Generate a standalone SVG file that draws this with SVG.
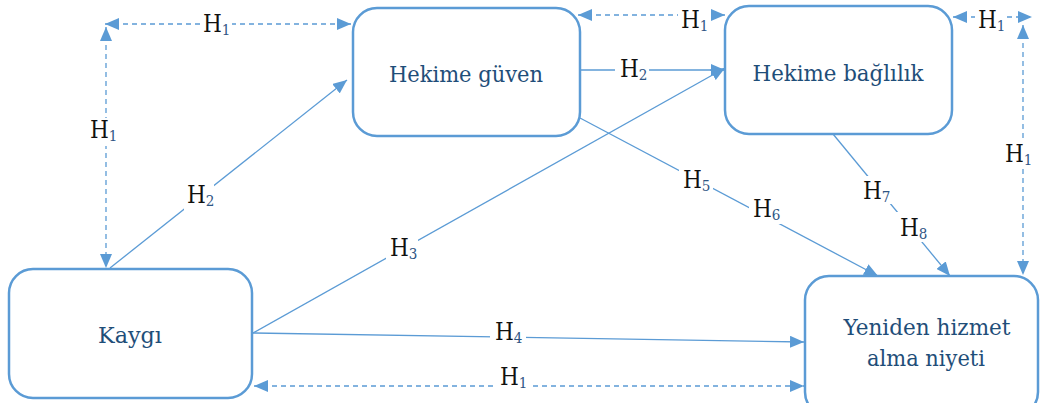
<svg xmlns="http://www.w3.org/2000/svg" width="1041" height="403" viewBox="0 0 1041 403">
  <style>
    .box { fill: #ffffff; stroke: #5B9BD5; stroke-width: 2.5; }
    .node-text { font-family: 'DejaVu Serif Condensed', 'DejaVu Serif', 'Liberation Serif', serif; font-size: 23px; fill: #1F4E79; text-anchor: middle; }
    .link { stroke: #5B9BD5; stroke-width: 1.3; fill: none; }
    .dash { stroke-dasharray: 5 4; }
    .lbl { font-family: 'DejaVu Serif Condensed', 'DejaVu Serif', 'Liberation Serif', serif; font-size: 24px; fill: #111111; }
    .sub { font-size: 15px; fill: #2E5583; }
    .lbl-bg { fill: #ffffff; }
  </style>
  <defs>
    <marker id="arrow" viewBox="0 0 14 12" refX="14" refY="6" markerWidth="14" markerHeight="12" markerUnits="userSpaceOnUse" orient="auto-start-reverse">
      <path d="M0,0 L14,6 L0,12 Z" fill="#5B9BD5"/>
    </marker>
  </defs>

  <!-- connectors -->
  <g id="connectors">
    <!-- H1 correlations (dashed, double-headed) -->
    <line class="link dash" x1="105" y1="24" x2="351" y2="24" marker-start="url(#arrow)" marker-end="url(#arrow)"/>
    <line class="link dash" x1="106" y1="27" x2="106" y2="268" marker-start="url(#arrow)" marker-end="url(#arrow)"/>
    <line class="link dash" x1="578" y1="15" x2="725" y2="15" marker-start="url(#arrow)" marker-end="url(#arrow)"/>
    <line class="link dash" x1="953" y1="17" x2="1032" y2="17" marker-start="url(#arrow)" marker-end="url(#arrow)"/>
    <line class="link dash" x1="1023" y1="25" x2="1023" y2="275" marker-start="url(#arrow)" marker-end="url(#arrow)"/>
    <line class="link dash" x1="254" y1="386" x2="804" y2="386" marker-start="url(#arrow)" marker-end="url(#arrow)"/>

    <!-- directed paths -->
    <line class="link" x1="110" y1="268" x2="347" y2="80" marker-end="url(#arrow)"/>
    <line class="link" x1="580" y1="70" x2="725" y2="70" marker-end="url(#arrow)"/>
    <line class="link" x1="253" y1="333" x2="725" y2="68" marker-end="url(#arrow)"/>
    <line class="link" x1="253" y1="333" x2="804" y2="342" marker-end="url(#arrow)"/>
    <line class="link" x1="580" y1="118" x2="878" y2="276" marker-end="url(#arrow)"/>
    <line class="link" x1="833" y1="134" x2="950" y2="276" marker-end="url(#arrow)"/>

    <!-- hypothesis labels -->
    <rect class="lbl-bg" x="200" y="12" width="32" height="24"/>
    <text class="lbl" x="203" y="32">H<tspan class="sub" dy="3">1</tspan></text>

    <rect class="lbl-bg" x="88" y="118" width="30" height="28"/>
    <text class="lbl" x="90" y="138">H<tspan class="sub" dy="3">1</tspan></text>

    <rect class="lbl-bg" x="678" y="6" width="32" height="24"/>
    <text class="lbl" x="681" y="28">H<tspan class="sub" dy="3">1</tspan></text>

    <rect class="lbl-bg" x="975" y="6" width="32" height="24"/>
    <text class="lbl" x="978" y="28">H<tspan class="sub" dy="3">1</tspan></text>

    <rect class="lbl-bg" x="1002" y="140" width="32" height="28"/>
    <text class="lbl" x="1005" y="162">H<tspan class="sub" dy="3">1</tspan></text>

    <rect class="lbl-bg" x="494" y="372" width="38" height="24"/>
    <text class="lbl" x="500" y="385">H<tspan class="sub" dy="3">1</tspan></text>

    <rect class="lbl-bg" x="184" y="182" width="30" height="28"/>
    <text class="lbl" x="187" y="203">H<tspan class="sub" dy="3">2</tspan></text>

    <rect class="lbl-bg" x="615" y="58" width="34" height="24"/>
    <text class="lbl" x="620" y="77">H<tspan class="sub" dy="3">2</tspan></text>

    <rect class="lbl-bg" x="386" y="234" width="32" height="28"/>
    <text class="lbl" x="390" y="256">H<tspan class="sub" dy="3">3</tspan></text>

    <rect class="lbl-bg" x="490" y="324" width="36" height="22"/>
    <text class="lbl" x="495" y="340">H<tspan class="sub" dy="3">4</tspan></text>

    <rect class="lbl-bg" x="679" y="166" width="34" height="28"/>
    <text class="lbl" x="683" y="188">H<tspan class="sub" dy="3">5</tspan></text>

    <rect class="lbl-bg" x="749" y="196" width="34" height="28"/>
    <text class="lbl" x="753" y="217">H<tspan class="sub" dy="3">6</tspan></text>

    <rect class="lbl-bg" x="859" y="176" width="34" height="28"/>
    <text class="lbl" x="863" y="199">H<tspan class="sub" dy="3">7</tspan></text>

    <rect class="lbl-bg" x="896" y="212" width="34" height="30"/>
    <text class="lbl" x="900" y="236">H<tspan class="sub" dy="3">8</tspan></text>
  </g>

  <!-- nodes -->
  <g id="node-guven">
    <rect class="box" x="353" y="8" width="227" height="128" rx="24" ry="24"/>
    <text class="node-text" x="466" y="82" textLength="154" lengthAdjust="spacingAndGlyphs">Hekime güven</text>
  </g>

  <g id="node-baglilik">
    <rect class="box" x="725" y="6" width="227" height="128" rx="24" ry="24"/>
    <text class="node-text" x="838" y="81" textLength="171" lengthAdjust="spacingAndGlyphs">Hekime bağlılık</text>
  </g>

  <g id="node-kaygi">
    <rect class="box" x="9" y="269" width="243" height="129" rx="24" ry="24"/>
    <text class="node-text" x="130" y="343" textLength="64" lengthAdjust="spacingAndGlyphs">Kaygı</text>
  </g>

  <g id="node-niyet">
    <rect class="box" x="805" y="276" width="233" height="140" rx="24" ry="24"/>
    <text class="node-text" x="927" y="335" textLength="167" lengthAdjust="spacingAndGlyphs">Yeniden hizmet</text>
    <text class="node-text" x="926" y="366" textLength="118" lengthAdjust="spacingAndGlyphs">alma niyeti</text>
  </g>
</svg>
